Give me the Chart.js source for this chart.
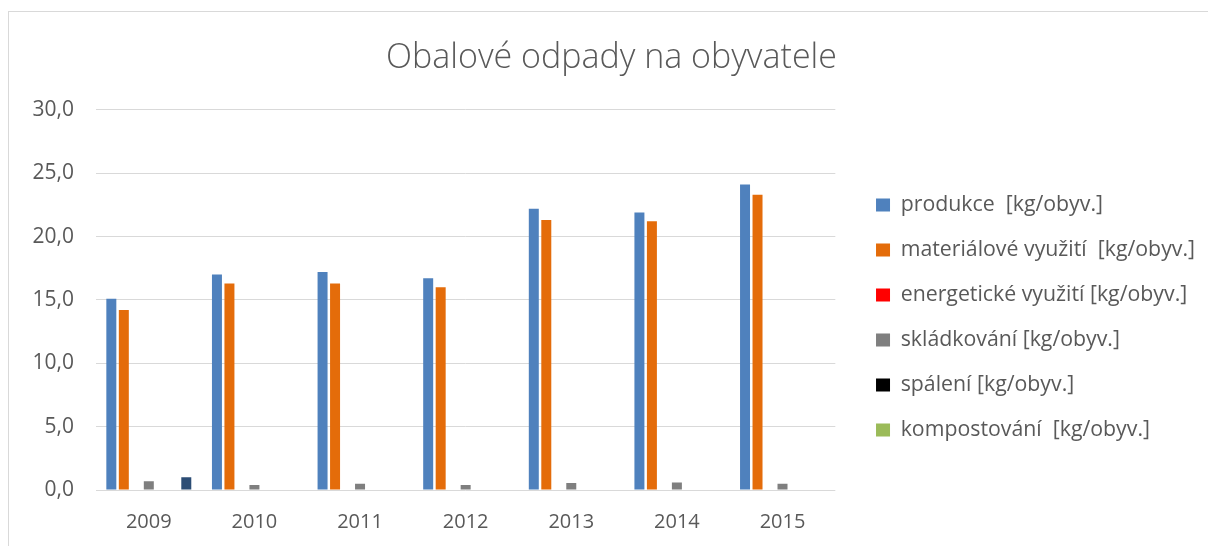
<!DOCTYPE html>
<html lang="cs">
<head>
<meta charset="utf-8">
<title>Obalové odpady na obyvatele</title>
<script src="https://cdn.jsdelivr.net/npm/chart.js@4"></script>
<style>
  html, body { margin: 0; padding: 0; background: #fff; overflow: hidden; }
  .chart-box { position: absolute; left: 0; top: 0; width: 1208px; height: 546px; }
  .frame { position: absolute; left: 8px; top: 11px; width: 1300px; height: 600px; border: 1px solid #d9d9d9; pointer-events: none; }
</style>
</head>
<body>
<div class="chart-box"><canvas id="bar-chart"></canvas></div>
<div class="frame"></div>
<script>
const years = ["2009", "2010", "2011", "2012", "2013", "2014", "2015"];

const produkce = [15.1, 17.0, 17.2, 16.7, 22.2, 21.9, 24.1];
const materialove = [14.2, 16.3, 16.3, 16.0, 21.3, 21.2, 23.3];
const energeticke = [0, 0, 0, 0, 0, 0, 0];
const skladkovani = [0.7, 0.4, 0.5, 0.4, 0.55, 0.6, 0.5];
const spaleni = [0, 0, 0, 0, 0, 0, 0];
const kompostovani = [0, 0, 0, 0, 0, 0, 0];
// series without a legend entry (dark blue bar in 2009)
const ostatni = [1.0, 0, 0, 0, 0, 0, 0];

const yTicks = [0, 5, 10, 15, 20, 25, 30];

const textColor = "#595959";
const font = "'Open Sans', sans-serif";

function series(label, data, color) {
  return { label, data, backgroundColor: color, borderWidth: 0 };
}

const barData = {
  labels: years,
  datasets: [
    series("produkce  [kg/obyv.]", produkce, "#4F81BD"),
    series("materiálové využití  [kg/obyv.]", materialove, "#E46C0A"),
    series("energetické využití [kg/obyv.]", energeticke, "#FF0000"),
    series("skládkování [kg/obyv.]", skladkovani, "#7F7F7F"),
    series("spálení [kg/obyv.]", spaleni, "#000000"),
    series("kompostování  [kg/obyv.]", kompostovani, "#9BBB59"),
    series("", ostatni, "#2C4D75"),
  ],
};

const ctx = document.getElementById("bar-chart").getContext("2d");
const barChart = new Chart(ctx, {
  type: "bar",
  data: barData,
  options: {
    responsive: true,
    maintainAspectRatio: false,
    animation: false,
    datasets: {
      bar: { categoryPercentage: 0.828, barPercentage: 0.8 },
    },
    layout: { padding: { left: 18, right: 3, top: 0, bottom: 0 } },
    scales: {
      x: {
        grid: { display: false },
        border: { display: false },
        ticks: { color: textColor, font: { family: font, size: 20 }, padding: 12 },
        afterFit: (s) => { s.height = 56; },
      },
      y: {
        min: 0,
        max: 30,
        afterBuildTicks: (s) => { s.ticks = yTicks.map((v) => ({ value: v })); },
        grid: { color: "#D9D9D9", lineWidth: 1, drawTicks: false },
        border: { display: false },
        ticks: {
          color: textColor,
          font: { family: font, size: 21 },
          padding: 22,
          callback: (v) => v.toFixed(1).replace(".", ","),
        },
        afterFit: (s) => { s.width = 78; },
      },
      gap: {
        type: "linear",
        position: "right",
        display: true,
        grid: { display: false },
        border: { display: false },
        ticks: { display: false },
        afterFit: (s) => { s.width = 17; },
      },
    },
    plugins: {
      title: {
        display: true,
        text: "Obalové odpady na obyvatele",
        color: textColor,
        font: { family: font, size: 34, weight: 300 },
        padding: { top: 38, bottom: 31 },
      },
      legend: {
        position: "right",
        align: "start",
        fullSize: false,
        maxWidth: 355,
        title: { display: true, text: "", font: { size: 19 }, padding: { top: 0, bottom: 38 } },
        labels: {
          color: textColor,
          font: { family: font, size: 21.3 },
          boxWidth: 14,
          boxHeight: 13,
          padding: 23.7,
          filter: (item) => item.datasetIndex < 6,
        },
      },
      tooltip: { enabled: false },
    },
  },
});
</script>
</body>
</html>
